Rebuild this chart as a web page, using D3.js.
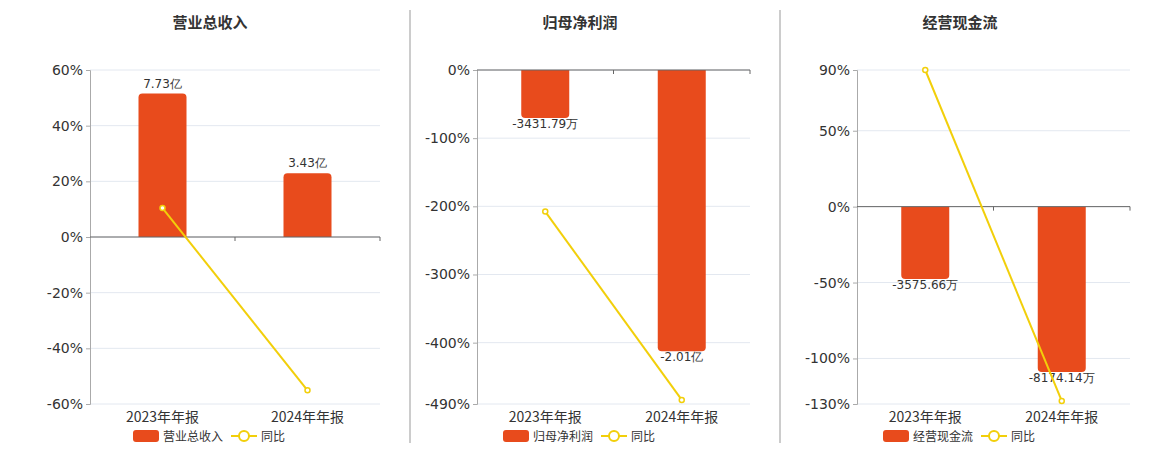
<!DOCTYPE html>
<html><head><meta charset="utf-8">
<script src="https://cdn.jsdelivr.net/npm/d3@7"></script>
<style>body{margin:0;background:#fff;font-family:"Noto Sans CJK SC","DejaVu Sans",sans-serif}</style>
</head><body><svg width="1160" height="450"></svg>
<script>
var categories = ["2023年年报", "2024年年报"];
var titles = ["营业总收入", "归母净利润", "经营现金流"];
var barValues = [[77300, 34300], [-3431.79, -20100], [-3575.66, -8174.14]];
var barLabels = [["7.73亿", "3.43亿"], ["-3431.79万", "-2.01亿"], ["-3575.66万", "-8174.14万"]];
var yoyValues = [[10.4, -55.1], [-207.7, -484], [90, -128]];
var tickValues = [[60, 40, 20, 0, -20, -40, -60], [0, -100, -200, -300, -400, -490], [90, 50, 0, -50, -100, -130]];
var pctDomains = [[-60, 60], [-490, 0], [-130, 90]];
var barDomains = [[-90000, 90000], [-23880, 0], [-9750, 6750]];

var svg = d3.select("svg");
var barColor = "#E84B1C", lineColor = "#F2CF0A";
var panels = [{x0: 90, x1: 380, cx: 210}, {x0: 477, x1: 750, cx: 580}, {x0: 857, x1: 1130, cx: 960}];

[410, 780].forEach(function (x) {
    svg.append("line").attr("x1", x).attr("x2", x).attr("y1", 10).attr("y2", 443).attr("stroke", "#999");
});

panels.forEach(function (p, i) {
    var g = svg.append("g");
    var y = d3.scaleLinear().domain(pctDomains[i]).range([404, 70]);
    var yb = d3.scaleLinear().domain(barDomains[i]).range([404, 70]);
    var x = d3.scaleBand().domain(categories).range([p.x0, p.x1]);

    g.append("text").attr("x", p.cx).attr("y", 28).attr("text-anchor", "middle")
        .attr("font-size", 15).attr("font-weight", "bold").attr("fill", "#333").text(titles[i]);

    g.selectAll(".grid").data(tickValues[i]).enter().append("line")
        .attr("x1", p.x0).attr("x2", p.x1).attr("y1", d => y(d)).attr("y2", d => y(d))
        .attr("stroke", "#e3e8f0");

    var ax = g.append("g").attr("transform", "translate(" + p.x0 + ",0)")
        .call(d3.axisLeft(y).tickValues(tickValues[i]).tickSize(4).tickFormat(d => d + "%"));
    ax.selectAll("text").attr("font-size", 14).attr("fill", "#333").attr("font-family", "DejaVu Sans");
    ax.select(".domain").attr("stroke", "#aaa");
    ax.selectAll(".tick line").attr("stroke", "#aaa");

    var data = categories.map((c, j) => ({c: c, v: barValues[i][j], l: barLabels[i][j], r: yoyValues[i][j]}));
    var bw = 48;
    g.selectAll(".bar").data(data).enter().append("path")
        .attr("fill", barColor)
        .attr("d", function (d) {
            var x0 = x(d.c) + x.bandwidth() / 2 - bw / 2, y0 = yb(0), y1 = yb(d.v), r = 4;
            var s = y1 < y0 ? 1 : -1;
            return "M" + x0 + "," + y0 + "V" + (y1 + s * r) + "Q" + x0 + "," + y1 + " " + (x0 + r) + "," + y1 +
                "H" + (x0 + bw - r) + "Q" + (x0 + bw) + "," + y1 + " " + (x0 + bw) + "," + (y1 + s * r) + "V" + y0 + "Z";
        });
    g.selectAll(".bl").data(data).enter().append("text")
        .attr("x", d => x(d.c) + x.bandwidth() / 2)
        .attr("y", d => d.v >= 0 ? yb(d.v) - 6 : yb(d.v) + 10)
        .attr("text-anchor", "middle").attr("font-size", 12).attr("fill", "#333")
        .attr("font-family", "DejaVu Sans")
        .text(d => d.l);

    g.append("line").attr("x1", p.x0).attr("x2", p.x1).attr("y1", y(0)).attr("y2", y(0)).attr("stroke", "#666");
    [x(categories[1]), p.x1].forEach(function (tx) {
        g.append("line").attr("x1", tx).attr("x2", tx).attr("y1", y(0)).attr("y2", y(0) + 4).attr("stroke", "#666");
    });

    g.append("path").datum(data).attr("fill", "none").attr("stroke", lineColor).attr("stroke-width", 2)
        .attr("d", d3.line().x(d => x(d.c) + x.bandwidth() / 2).y(d => y(d.r)));
    g.selectAll(".pt").data(data).enter().append("circle")
        .attr("cx", d => x(d.c) + x.bandwidth() / 2).attr("cy", d => y(d.r)).attr("r", 2.5)
        .attr("fill", "#fff").attr("stroke", lineColor).attr("stroke-width", 1.5);

    g.selectAll(".xl").data(categories).enter().append("text")
        .attr("x", d => x(d) + x.bandwidth() / 2).attr("y", 422).attr("text-anchor", "middle")
        .attr("font-size", 14).attr("fill", "#333").text(d => d);

    var lx = p.cx - 77;
    g.append("rect").attr("x", lx).attr("y", 430).attr("width", 26).attr("height", 12).attr("rx", 3).attr("fill", barColor);
    g.append("text").attr("x", lx + 30).attr("y", 441).attr("font-size", 12).attr("fill", "#333").text(titles[i]);
    var lx2 = lx + 30 + titles[i].length * 12 + 8;
    g.append("line").attr("x1", lx2).attr("x2", lx2 + 26).attr("y1", 436).attr("y2", 436).attr("stroke", lineColor).attr("stroke-width", 2);
    g.append("circle").attr("cx", lx2 + 13).attr("cy", 436).attr("r", 5).attr("fill", "#fff").attr("stroke", lineColor).attr("stroke-width", 2);
    g.append("text").attr("x", lx2 + 30).attr("y", 441).attr("font-size", 12).attr("fill", "#333").text("同比");
});
</script></body></html>
